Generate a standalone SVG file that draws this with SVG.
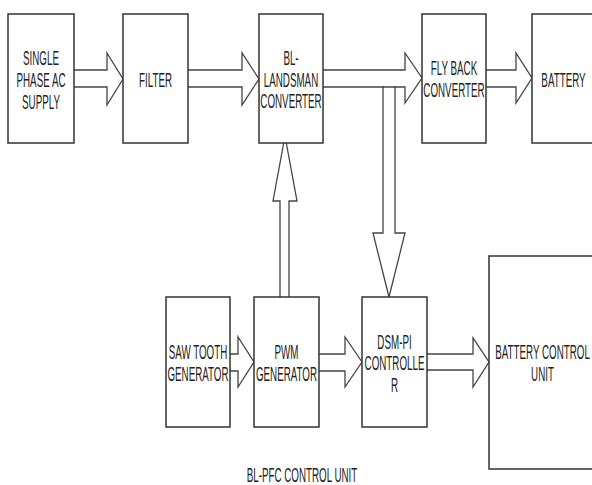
<svg xmlns="http://www.w3.org/2000/svg" width="592" height="485" viewBox="0 0 592 485">
<style>
.box{fill:#fff;stroke:#333;stroke-width:1.5}
.arr{fill:none;stroke:#444;stroke-width:1.3;stroke-linejoin:miter}
.t{font-family:"Liberation Sans",Arial,sans-serif;font-size:20px;fill:#222;text-anchor:middle}
</style>
<rect width="592" height="485" fill="#fff"/>
<g id="connectors">
<polyline class="arr" points="74,70 107,70 107,53 123,79 107,105 107,87 74,87"/>
<polyline class="arr" points="188,70 242,70 242,53 259,79 242,105 242,87 188,87"/>
<polyline class="arr" points="323,70 405,70 405,53 422,78 405,103 405,87 323,87"/>
<polyline class="arr" points="486,70 516,70 516,53 532,78 516,103 516,87 486,87"/>
<polyline class="arr" points="383,86 383,233 373,233 389,297 405,233 395,233 395,86"/>
<polyline class="arr" points="280,297 280,201 273,201 285,136 297,201 289,201 289,297"/>
<polyline class="arr" points="230,354 238,354 238,337 254,362 238,387 238,371 230,371"/>
<polyline class="arr" points="319,354 345,354 345,337 362,362 345,387 345,371 319,371"/>
<polyline class="arr" points="427,354 473,354 473,338 489,362 473,387 473,370 427,370"/>
</g>
<g id="single-phase-ac-supply">
<rect class="box" x="8" y="14" width="66" height="129"/>
<text class="t" transform="translate(41,0) scale(0.49,1)"><tspan x="0" y="65">SINGLE</tspan><tspan x="0" y="87">PHASE AC</tspan><tspan x="0" y="109">SUPPLY</tspan></text>
</g>
<g id="filter">
<rect class="box" x="123" y="14" width="65" height="129"/>
<text class="t" transform="translate(155.5,0) scale(0.49,1)" x="0" y="87">FILTER</text>
</g>
<g id="bl-landsman-converter">
<rect class="box" x="259" y="14" width="64" height="129"/>
<text class="t" transform="translate(291,0) scale(0.49,1)"><tspan x="0" y="65">BL-</tspan><tspan x="0" y="87">LANDSMAN</tspan><tspan x="0" y="108">CONVERTER</tspan></text>
</g>
<g id="fly-back-converter">
<rect class="box" x="422" y="14" width="64" height="129"/>
<text class="t" transform="translate(454,0) scale(0.49,1)"><tspan x="0" y="75">FLY BACK</tspan><tspan x="0" y="97">CONVERTER</tspan></text>
</g>
<g id="battery">
<rect class="box" x="532" y="14" width="66" height="129"/>
<text class="t" transform="translate(563.5,0) scale(0.49,1)" x="0" y="87">BATTERY</text>
</g>
<g id="saw-tooth-generator">
<rect class="box" x="166" y="297" width="64" height="130"/>
<text class="t" transform="translate(198,0) scale(0.49,1)"><tspan x="0" y="359">SAW TOOTH</tspan><tspan x="0" y="381">GENERATOR</tspan></text>
</g>
<g id="pwm-generator">
<rect class="box" x="254" y="297" width="65" height="130"/>
<text class="t" transform="translate(286.5,0) scale(0.49,1)"><tspan x="0" y="359">PWM</tspan><tspan x="0" y="381">GENERATOR</tspan></text>
</g>
<g id="dsm-pi-controller">
<rect class="box" x="362" y="297" width="65" height="130"/>
<text class="t" transform="translate(394.5,0) scale(0.49,1)"><tspan x="0" y="349">DSM-PI</tspan><tspan x="0" y="370">CONTROLLE</tspan><tspan x="0" y="392">R</tspan></text>
</g>
<g id="battery-control-unit">
<rect class="box" x="489" y="256" width="109" height="213"/>
<text class="t" transform="translate(542.5,0) scale(0.49,1)"><tspan x="0" y="359">BATTERY CONTROL</tspan><tspan x="0" y="381">UNIT</tspan></text>
</g>
<g id="bl-pfc-control-unit-label">
<text class="t" transform="translate(302,0) scale(0.49,1)" x="0" y="482">BL-PFC CONTROL UNIT</text>
</g>
</svg>
